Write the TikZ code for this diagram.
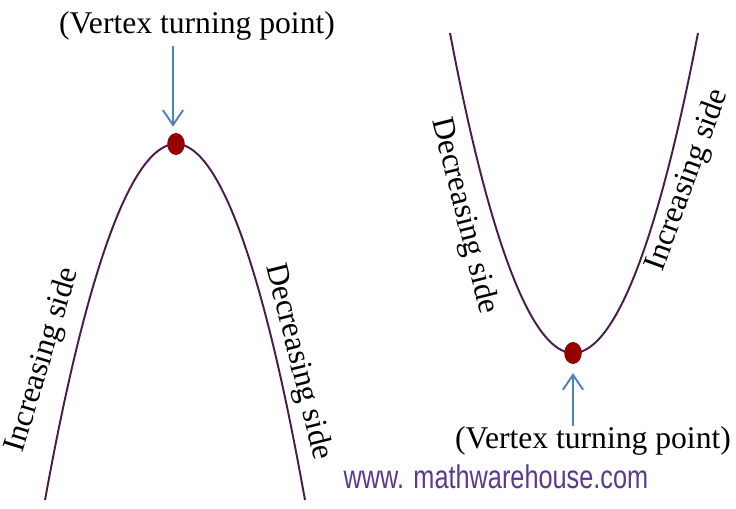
\documentclass[tikz,border=0pt]{standalone}
\usepackage{fontspec}
\setmainfont{Liberation Serif}
\newfontfamily\webfont{Liberation Sans}
\usetikzlibrary{shapes.geometric, arrows.meta, positioning}
\definecolor{curvecol}{RGB}{74,26,74}
\definecolor{dotcol}{RGB}{150,0,0}
\definecolor{arrowcol}{RGB}{79,129,189}
\definecolor{webcol}{RGB}{90,58,140}
\tikzset{
    curve/.style={draw=curvecol, line width=1.1pt},
    vtxdot/.style={ellipse, fill=dotcol, minimum width=10pt, minimum height=12.5pt, inner sep=0pt},
    vtxarrow/.style={draw=arrowcol, line width=1.1pt, -{Straight Barb[length=8.5pt, width=11.5pt, line width=1.1pt]}},
    vtxlbl/.style={inner sep=0pt, font=\fontsize{18}{20}\selectfont},
    sidelbl/.style={inner sep=0pt, font=\fontsize{18}{20}\selectfont},
    webmark/.style={inner sep=0pt, text=webcol, font=\webfont\fontsize{18.7}{20}\selectfont, xscale=0.77}
}
\begin{document}
\begin{tikzpicture}[x=0.02cm, y=-0.02cm]
        \useasboundingbox (0,0) rectangle (736,508);
        % downward parabola
        \draw[curve] (45,500) parabola bend (176,144) (305,500);
        \node[vtxdot] (topvtx) at (176,144) {};
        \node[vtxlbl, anchor=base] (toplbl) at (197,33) {(Vertex turning point)};
        \draw[vtxarrow, shorten <=3.4pt, shorten >=3.4pt] (toplbl.south -| 173,0) -- (topvtx.north -| 173,0);
        \node[sidelbl, rotate=73] (incleft) at (43,360) {Increasing side};
        \node[sidelbl, rotate=-76] (decleft) at (298,362) {Decreasing side};
        % upward parabola
        \draw[curve] (450,33) parabola bend (573,353) (698,33);
        \node[vtxdot] (botvtx) at (573,353) {};
        \node[vtxlbl, anchor=base] (botlbl) at (593,448) {(Vertex turning point)};
        \draw[vtxarrow, shorten >=5pt] (botlbl.north -| botvtx) -- (botvtx.south);
        \node[sidelbl, rotate=-76] (decright) at (464,216) {Decreasing side};
        \node[sidelbl, rotate=70] (incright) at (688,180) {Increasing side};
        \node[webmark, anchor=base] (site) at (496,488) {www. mathwarehouse.com};
    \end{tikzpicture}
\end{document}
